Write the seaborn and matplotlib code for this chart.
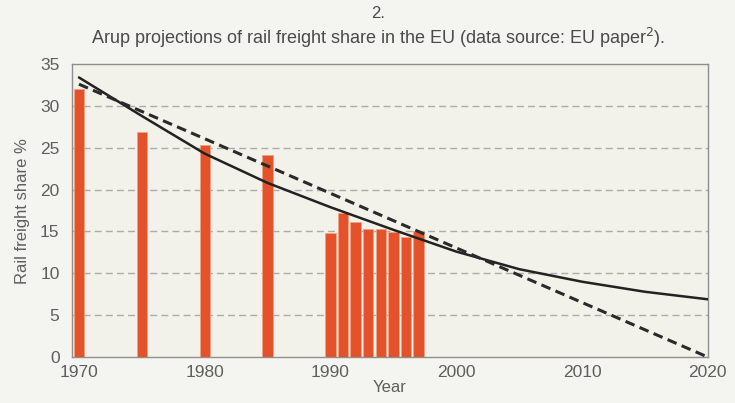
import numpy as np
import pandas as pd
import matplotlib
matplotlib.use('Agg')
import matplotlib.pyplot as plt
import seaborn as sns

# bar data: observed rail freight share
bar_years = [1970, 1975, 1980, 1985, 1990, 1991, 1992, 1993, 1994, 1995, 1996, 1997]
bar_share = [32.0, 26.9, 25.3, 24.1, 14.8, 17.2, 16.1, 15.3, 15.3, 14.9, 14.4, 15.0]

# solid projection curve (read every 5 years)
curve_years = [1970, 1975, 1980, 1985, 1990, 1995, 2000, 2005, 2010, 2015, 2020]
curve_share = [33.4, 28.8, 24.3, 20.8, 17.9, 15.2, 12.6, 10.5, 9.0, 7.8, 6.9]

# dashed linear projection
linear_years = [1970, 2020]
linear_share = [32.6, 0.0]

x_ticks = [1970, 1980, 1990, 2000, 2010, 2020]
y_ticks = [0, 5, 10, 15, 20, 25, 30, 35]

sns.set_style('white')
plt.rcParams['font.family'] = ['Liberation Sans', 'DejaVu Sans']

fig = plt.figure(figsize=(7.35, 4.03), dpi=100, facecolor='#F4F4F1')
ax = fig.add_axes([0.098, 0.114, 0.865, 0.727])
ax.set_facecolor('#F3F2EA')

bars = pd.DataFrame({'year': bar_years, 'share': bar_share})
ax.bar(bars['year'], bars['share'], width=0.82, color='#E4522B',
       edgecolor='#F2A183', linewidth=0.6, zorder=3)

curve = pd.DataFrame({'year': curve_years, 'share': curve_share})
sns.lineplot(data=curve, x='year', y='share', ax=ax, color='#222222', lw=1.8, zorder=4)
ax.plot(linear_years, linear_share, color='#2a2a2a', lw=2.2, ls=(0, (3.2, 1.8)), zorder=4)

ax.set_xlim(1969.45, 2020)
ax.set_ylim(0, 35)
ax.set_xticks(x_ticks)
ax.set_yticks(y_ticks)
for y in y_ticks[1:-1]:
    ax.axhline(y, color='#ABABAB', lw=1.0, ls=(0, (5, 3)), zorder=1)

for s in ax.spines.values():
    s.set_color('#8E8E8E')
    s.set_linewidth(1.0)
ax.tick_params(axis='both', length=0, labelsize=12.5, colors='#5E5E5E')
ax.tick_params(axis='x', pad=6)
ax.tick_params(axis='y', pad=9)

ax.set_xlabel('Year', fontsize=12, color='#5E5E5E', labelpad=0)
ax.set_ylabel('Rail freight share %', fontsize=12, color='#5E5E5E', labelpad=7)

fig.text(0.514, 0.967, '2.', ha='center', va='center', fontsize=12, color='#4A4A4A')
fig.text(0.514, 0.907, 'Arup projections of rail freight share in the EU (data source: EU paper$^{2}$).',
         ha='center', va='center', fontsize=13, color='#4A4A4A')

fig.savefig('out.png', dpi=100, facecolor=fig.get_facecolor())
